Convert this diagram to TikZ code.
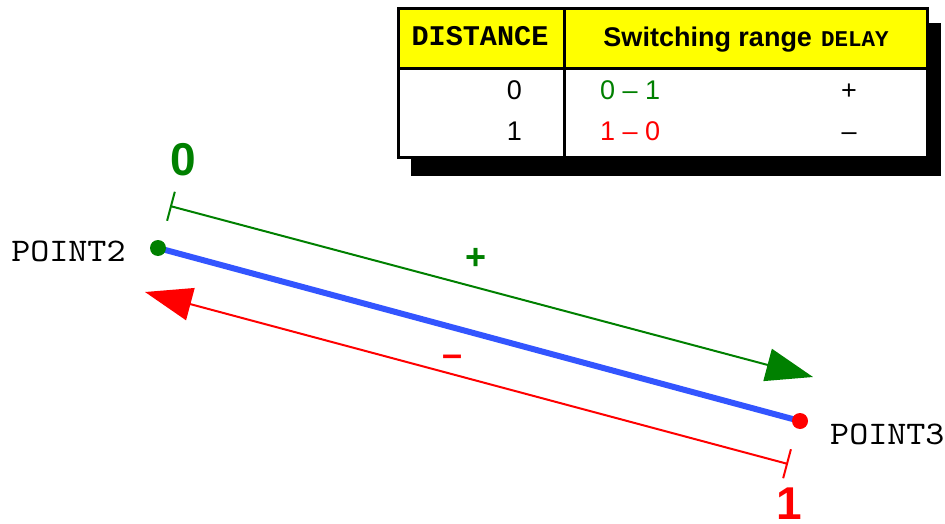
\documentclass[tikz,border=0pt]{standalone}
\usepackage{fontspec}
\setmainfont{Liberation Sans}
\newfontfamily\monofam[FakeStretch=1.1]{lmmono10-regular.otf}
\newfontfamily\boldmono{Liberation Mono}
\usetikzlibrary{arrows.meta,positioning}
\definecolor{okgreen}   {HTML}{008000}
\definecolor{badred}    {HTML}{FF0000}
\definecolor{lineblue}  {HTML}{3355FF}
\definecolor{headyellow}{HTML}{FFFF00}
\newcommand{\tabfont}{\fontsize{27}{32}\selectfont}
\newcommand{\headfont}{\fontsize{27}{32}\selectfont\bfseries}
\newcommand{\ptfont}{\fontsize{33}{36}\selectfont\monofam}
\newcommand{\bigfont}{\fontsize{46}{50}\selectfont\bfseries}
\newcommand{\signfont}{\fontsize{36}{40}\selectfont\bfseries}

\begin{document}
\begin{tikzpicture}[x=1pt, y=-1pt, font=\tabfont, inner sep=0pt,
    cell/.style={text height=19.3pt, text depth=0pt},
    dot/.style={circle, minimum size=16pt},
    dimtip/.tip={Triangle[length=47pt,width=33pt]},
    dimbar/.tip={Bar[width=30pt]}]
  \useasboundingbox (0,0) rectangle (945,524);
  % table with its shadow
  \fill[black] (411,23) rectangle (941,176);
  \draw[line width=3pt, fill=headyellow] (398,9) rectangle (927,69);
  \draw[line width=3pt, fill=white] (398,69) rectangle (927,158);
  \draw[line width=3pt] (564,9) -- (564,158);
  \node[anchor=base, font=\fontsize{28.5}{32}\selectfont\boldmono\bfseries] (hdist) at (480,46) {DISTANCE};
  \node[anchor=base, font=\headfont] (hrange) at (746,46.5)
       {Switching range\hspace{9pt}{\fontsize{22.5}{26}\selectfont\boldmono\bfseries DELAY}};
  \foreach \y/\d/\col/\rng/\sgn in {
     90/0/okgreen/{0 – 1}/+,
     131/1/badred/{1 – 0}/–} {
    \node[cell, anchor=east] (dist\d) at (522,\y) {\d};
    \node[cell, anchor=west, text=\col] (rng\d) at (600,\y) {\rng};
    \node[cell] (sgn\d) at (849,\y) {\sgn};
  }
  % the two points
  \coordinate (pt2) at (158,248);
  \coordinate (pt3) at (800,421);
  \draw[lineblue, line width=6pt] (pt2) -- (pt3);
  \node[dot, fill=okgreen] (p2) at (pt2) {};
  \node[dot, fill=badred]  (p3) at (pt3) {};
  \node[font=\ptfont, left=24pt of p2, yshift=-3.5pt] (p2lab) {POINT2};
  \node[font=\ptfont, anchor=west] (p3lab) at (830,434.5) {POINT3};
  % dimension arrows
  \coordinate (gA) at (170,206);
  \coordinate (gB) at (813,377);
  \coordinate (rA) at (145,292);
  \coordinate (rB) at (788,464);
  \draw[okgreen, line width=2pt, {dimbar}-{dimtip}] (gA) -- (gB);
  \draw[badred, line width=2pt, {dimtip}-{dimbar}] (rA) -- (rB);
  \node[text=okgreen, font=\bigfont] (lab0) at (183,160) {0};
  \node[text=badred, font=\bigfont] (lab1) at (789,504) {1};
  \node[text=okgreen, font=\signfont] (plus) at (476,259) {+};
  \node[text=badred, font=\signfont] (minus) at (453,361) {–};
\end{tikzpicture}
\end{document}
